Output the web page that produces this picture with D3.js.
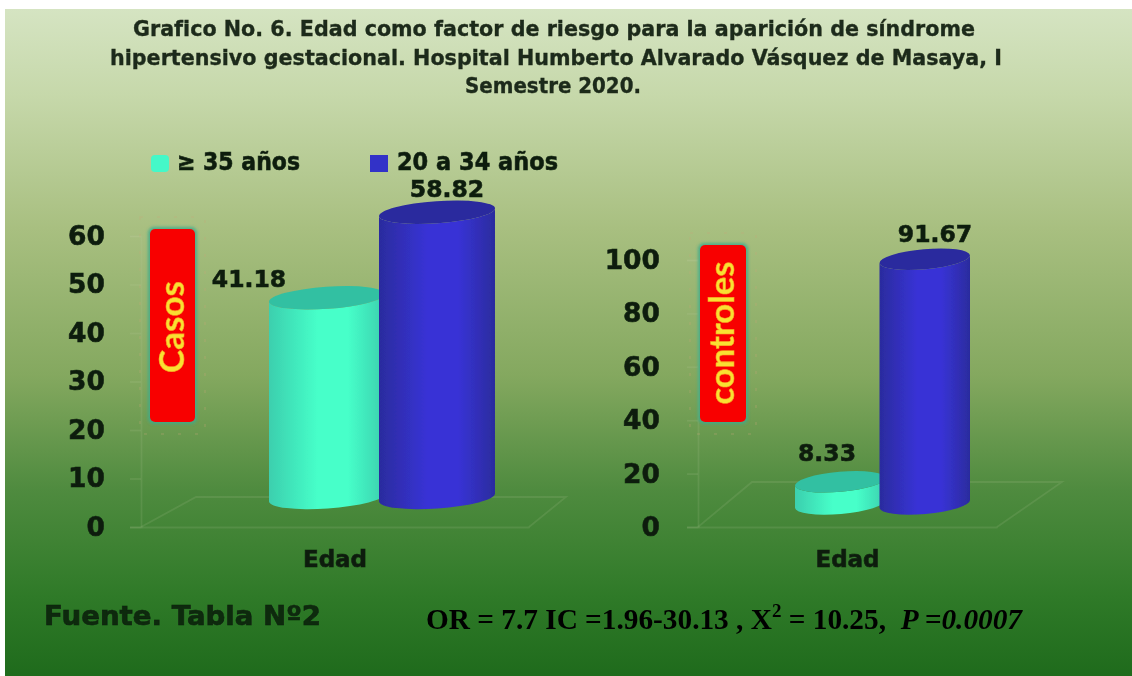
<!DOCTYPE html>
<html lang="es">
<head>
<meta charset="utf-8">
<script src="https://cdn.jsdelivr.net/npm/d3@7/dist/d3.min.js"></script>
<style>
html,body{margin:0;padding:0;background:#fff;overflow:hidden}
svg{display:block}
text{font-family:"DejaVu Sans",Verdana,sans-serif;font-weight:700}
</style>
</head>
<body>
<div id="chart"></div>
<script>
// Age groups and their percentages for cases and controls
const ageGroups = ["≥ 35 años", "20 a 34 años"];
const casosValues = [41.18, 58.82];
const controlesValues = [8.33, 91.67];
const casosTicks = [0, 10, 20, 30, 40, 50, 60];
const controlesTicks = [0, 20, 40, 60, 80, 100];
const categoryLabel = ["Edad"];
const titleLines = [
  "Grafico No. 6. Edad como factor de riesgo para la aparición de síndrome",
  "hipertensivo gestacional. Hospital Humberto Alvarado Vásquez de Masaya, I",
  "Semestre 2020."
];
const sourceNote = "Fuente. Tabla Nº2";

const W = 1132, H = 676;
const svg = d3.select("#chart").append("svg").attr("width", W).attr("height", H);
const defs = svg.append("defs");

// Panel background
const bg = defs.append("linearGradient").attr("id", "bg").attr("x1", 0).attr("x2", 0).attr("y1", 0).attr("y2", 1);
[[0, "#d5e4c2"], [.13, "#c6d8aa"], [.33, "#a8bf80"], [.55, "#84a85f"], [.72, "#4f8b3f"], [.88, "#2f7a28"], [1, "#1f6b1c"]]
  .forEach(([o, c]) => bg.append("stop").attr("offset", o).attr("stop-color", c));
svg.append("rect").attr("x", 5).attr("y", 9).attr("width", W - 5).attr("height", H - 9).attr("fill", "url(#bg)");

// Soft edge on the chart artwork
defs.append("filter").attr("id", "soft").attr("x", "-5%").attr("y", "-5%").attr("width", "110%").attr("height", "110%")
  .append("feGaussianBlur").attr("stdDeviation", 0.6);
defs.append("filter").attr("id", "softer").attr("x", "-30%").attr("y", "-30%").attr("width", "160%").attr("height", "160%")
  .append("feGaussianBlur").attr("stdDeviation", 1.6);

// Shading across each cylinder body
const shades = [
  {id: "cyl0", edge: "#3ccfae", mid: "#46ffc9", top: "#32c0a2"},
  {id: "cyl1", edge: "#2b2c9e", mid: "#3832d6", top: "#2a2a9e"}
];
shades.forEach(s => {
  const g = defs.append("linearGradient").attr("id", s.id);
  [[0, s.edge], [.42, s.mid], [.68, s.mid], [1, s.edge]].forEach(([o, c]) => g.append("stop").attr("offset", o).attr("stop-color", c));
});

const art = svg.append("g").attr("filter", "url(#soft)");
const inkColor = "#0d1f0e";
const heavy = sel => sel.attr("stroke", inkColor).attr("stroke-width", .6);

// Title
const titleX = [[133, 975, 36], [110, 1002, 65], [465, 641, 93]];
art.selectAll(".title").data(titleLines).join("text").attr("class", "title")
  .attr("x", (d, i) => titleX[i][0]).attr("y", (d, i) => titleX[i][2])
  .attr("textLength", (d, i) => titleX[i][1] - titleX[i][0]).attr("lengthAdjust", "spacingAndGlyphs")
  .attr("font-size", 21.5).attr("fill", "#1d2a1a").attr("stroke", "#1d2a1a").attr("stroke-width", .35).text(d => d);

// Legend
const legendPos = [{sx: 151, tx: 177, tw: 123}, {sx: 370, tx: 397, tw: 161}];
const legend = art.selectAll(".legend").data(ageGroups).join("g").attr("class", "legend");
legend.append("rect").attr("x", (d, i) => legendPos[i].sx).attr("y", 155).attr("width", 18).attr("height", 17).attr("rx", (d, i) => i ? 0 : 4)
  .attr("fill", (d, i) => i ? "#3230c8" : "#45f8c8");
legend.append("text").attr("x", (d, i) => legendPos[i].tx).attr("y", 170)
  .attr("textLength", (d, i) => legendPos[i].tw).attr("lengthAdjust", "spacingAndGlyphs")
  .attr("font-size", 24.5).attr("fill", inkColor).call(heavy).text(d => d);

// One 3D cylinder panel: a value axis, a faint floor and two cylinders
function drawPanel(p) {
  const y = d3.scaleLinear().domain(p.domain).range([p.y0, p.y1]);
  const x = d3.scaleBand().domain(ageGroups).range(p.barRange);
  const g = art.append("g");

  // Floor of the 3D box
  const wall = "rgba(190,205,160,.14)";
  const floor = d3.path();
  floor.moveTo(p.axisX, p.y0); floor.lineTo(p.floorBack[0], p.floorBack[1]);
  floor.lineTo(p.floorBack[2], p.floorBack[1]); floor.lineTo(p.axisEnd, p.y0);
  g.append("path").attr("d", floor.toString()).attr("fill", "none").attr("stroke", wall).attr("stroke-width", 1.8);

  // Value axis
  const yAxis = g.append("g").attr("transform", `translate(${p.axisX},0)`)
    .call(d3.axisLeft(y).tickValues(p.ticks).tickSize(11).tickPadding(p.tickPad));
  yAxis.selectAll("path,line").attr("stroke", wall).attr("stroke-width", 1.8);
  yAxis.selectAll("text").attr("font-size", 26.5).attr("fill", inkColor).call(heavy)
    .style("font-family", '"DejaVu Sans"').style("font-weight", 700);

  // Category axis
  const cat = d3.scaleBand().domain(categoryLabel).range([p.axisX, p.axisEnd]);
  const xAxis = g.append("g").attr("transform", `translate(0,${p.y0})`)
    .call(d3.axisBottom(cat).tickSize(0).tickPadding(24));
  xAxis.select("path").attr("stroke", wall).attr("stroke-width", 1.8);
  xAxis.selectAll("text").attr("font-size", 23).attr("fill", inkColor).call(heavy)
    .style("font-family", '"DejaVu Sans"').style("font-weight", 700);

  // Cylinders, the shorter age group first so the second overlaps it
  const tilt = p.tilt, ry = p.ry, lift = p.lift, grow = 3;
  p.values.forEach((v, i) => {
    const key = ageGroups[i];
    const x0 = x(key) - grow, x1 = x(key) + x.bandwidth() + grow;
    const rx = (x1 - x0) / 2, cx = (x0 + x1) / 2;
    const yt = y(v) - lift, yb = y(0) - lift;
    const rot = -Math.atan2(tilt, rx) * 180 / Math.PI;
    const rxa = Math.hypot(rx, tilt);
    const c = g.append("g");
    c.append("path")
      .attr("d", `M${x0},${yt + tilt}L${x0},${yb + tilt}A${rxa},${ry},${rot},0,0,${x1},${yb - tilt}L${x1},${yt - tilt}A${rxa},${ry},${rot},0,1,${x0},${yt + tilt}Z`)
      .attr("fill", `url(#cyl${i})`);
    c.append("ellipse").attr("rx", rxa).attr("ry", ry)
      .attr("transform", `translate(${cx},${yt}) rotate(${rot})`).attr("fill", shades[i].top);
    // Value label
    g.append("text").attr("x", p.labels[i][0]).attr("y", p.labels[i][1])
      .attr("text-anchor", "middle").attr("font-size", p.labelSize).attr("fill", inkColor).call(heavy).text(d3.format(".2f")(v));
  });

  // Red group tag with a teal outline and a faint dotted frame
  g.append("rect").attr("x", p.tag[0] - 2).attr("y", p.tag[1] - 2).attr("width", p.tag[2] + 4).attr("height", p.tag[3] + 4).attr("rx", 6)
    .attr("fill", "#3dab8c").attr("opacity", .85).attr("filter", "url(#softer)");
  g.append("rect").attr("x", p.tag[0] - 10).attr("y", p.tag[1] - 12).attr("width", p.tag[2] + 20).attr("height", p.tag[3] + 24)
    .attr("fill", "none").attr("stroke", "#c9a878").attr("stroke-opacity", .3).attr("stroke-width", 1.5).attr("stroke-dasharray", "3 14");
  g.append("rect").attr("x", p.tag[0]).attr("y", p.tag[1]).attr("width", p.tag[2]).attr("height", p.tag[3]).attr("rx", 5).attr("fill", "#f80505");
  g.append("text")
    .attr("transform", `translate(${p.tag[0] + p.tag[2] / 2 + 11},${p.tagTextY}) rotate(-90)`)
    .attr("text-anchor", "middle").attr("textLength", p.tagLen).attr("lengthAdjust", "spacingAndGlyphs")
    .attr("font-size", 34).attr("fill", "#f9e030").attr("stroke", "#f7a020").attr("stroke-width", .5)
    .style("font-family", 'Lato').style("font-weight", 700).text(p.name);
}

drawPanel({
  name: "Casos", domain: [0, 60], y0: 527, y1: 236, ticks: casosTicks, values: casosValues,
  axisX: 141, axisEnd: 529, tickPad: 25, barRange: [272, 492], floorBack: [196, 497, 566], lift: 29.5, ry: 11, tilt: 4,
  labels: [[249, 287], [447, 197]], labelSize: 23.5, tag: [150, 229, 45, 193], tagTextY: 327, tagLen: 92
});
drawPanel({
  name: "controles", domain: [0, 100], y0: 527, y1: 260, ticks: controlesTicks, values: controlesValues,
  axisX: 698, axisEnd: 997, tickPad: 27, barRange: [798, 967], floorBack: [752, 482, 1062], lift: 23, ry: 10, tilt: 4,
  labels: [[827, 461], [935, 242]], labelSize: 23.5, tag: [700, 245, 46, 177], tagTextY: 333, tagLen: 143
});

// Source note
art.append("text").attr("x", 44).attr("y", 625).attr("textLength", 277).attr("lengthAdjust", "spacingAndGlyphs")
  .attr("font-size", 27).attr("fill", "#0f2a10").call(heavy).text(sourceNote);

// Statistics line, crisp serif
const stats = svg.append("text").attr("x", 426).attr("y", 629).attr("font-size", 29.3).attr("fill", "#000")
  .style("font-family", '"Liberation Serif"').style("font-weight", 700).style("white-space", "pre");
stats.append("tspan").text("OR = 7.7 IC =1.96-30.13 , X");
stats.append("tspan").attr("dy", -12).attr("font-size", 19).text("2");
stats.append("tspan").attr("dy", 12).text(" = 10.25,  ");
stats.append("tspan").attr("font-style", "italic").text("P =0.0007");
</script>
</body>
</html>
